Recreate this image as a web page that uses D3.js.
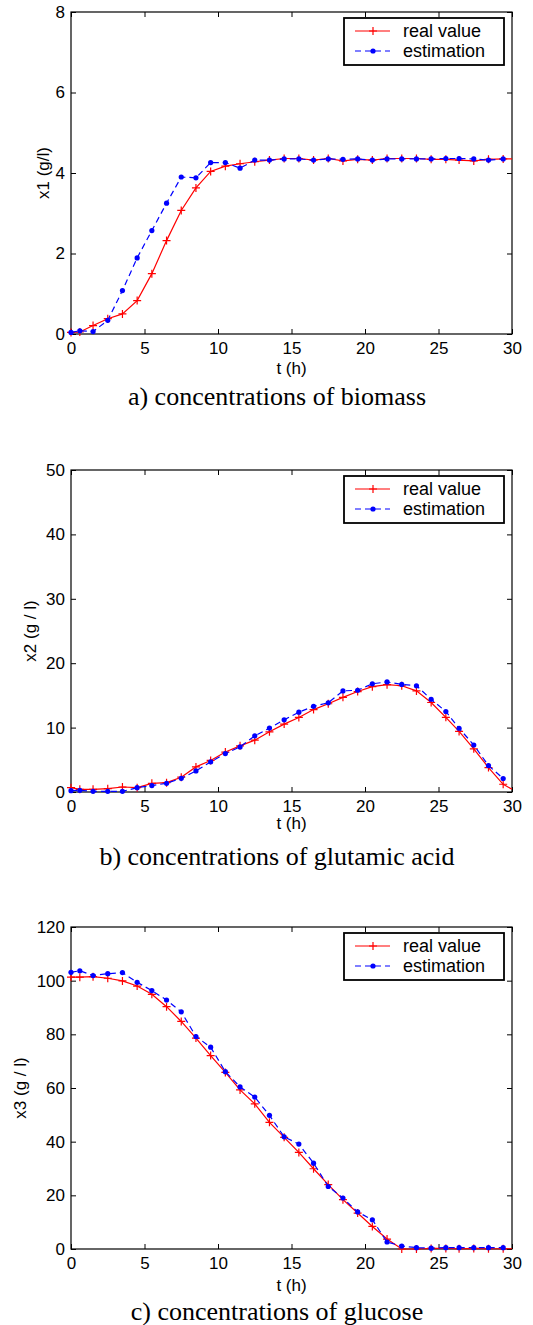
<!DOCTYPE html>
<html>
<head>
<meta charset="utf-8">
<script src="https://cdn.jsdelivr.net/npm/d3@7"></script>
<style>
  body { margin: 0; background: #fff; }
  svg text { font-family: "Liberation Sans", Arial, sans-serif; }
  .cap { font-family: "Liberation Serif", "Times New Roman", serif; }
</style>
</head>
<body>
<svg id="chart" width="533" height="1325"></svg>
<script>
// sampling times (h)
var times = [0, 0.6, 1.5, 2.5, 3.5, 4.5, 5.5, 6.5, 7.5, 8.5, 9.5, 10.5, 11.5, 12.5, 13.5,
             14.5, 15.5, 16.5, 17.5, 18.5, 19.5, 20.5, 21.5, 22.5, 23.5, 24.5, 25.5,
             26.4, 27.4, 28.4, 29.4];
// real value has one more point at the end of the run
var realTimes = times.concat([30]);

// biomass x1 (g/l)
var x1Real = [0.04, 0.05, 0.21, 0.38, 0.50, 0.83, 1.50, 2.32, 3.07, 3.63, 4.04, 4.17, 4.23,
              4.28, 4.32, 4.36, 4.36, 4.32, 4.36, 4.30, 4.34, 4.32, 4.36, 4.36, 4.36, 4.34,
              4.34, 4.32, 4.30, 4.34, 4.35, 4.35];
var x1Est = [0.04, 0.08, 0.06, 0.34, 1.08, 1.89, 2.57, 3.25, 3.90, 3.88, 4.26, 4.26, 4.12,
             4.32, 4.32, 4.35, 4.35, 4.32, 4.35, 4.34, 4.35, 4.32, 4.35, 4.35, 4.35, 4.35,
             4.36, 4.36, 4.35, 4.32, 4.35];

// glutamic acid x2 (g/l)
var x2Real = [0.67, 0.42, 0.42, 0.52, 0.78, 0.67, 1.35, 1.45, 2.3, 3.9, 4.9, 6.2, 7.17,
              8.05, 9.35, 10.54, 11.58, 12.8, 13.7, 14.7, 15.6, 16.35, 16.67, 16.5, 15.7,
              13.9, 11.6, 9.4, 6.7, 3.8, 1.2, 0.42];
var x2Est = [0.2, 0.26, 0.1, 0.1, 0.1, 0.67, 1.0, 1.35, 2.13, 3.27, 4.67, 5.97, 7.0,
             8.72, 9.92, 11.2, 12.4, 13.3, 13.85, 15.7, 15.8, 16.8, 17.1, 16.7, 16.5,
             14.4, 12.5, 9.9, 7.3, 4.1, 2.1];

// glucose x3 (g/l)
var x3Real = [101.3, 101.3, 101.5, 100.9, 99.9, 98.0, 94.9, 90.3, 84.8, 78.6, 72.1, 65.8,
              59.3, 54.1, 47.2, 41.6, 36.0, 29.9, 24.0, 18.4, 13.4, 8.4, 3.7, 0.0, 0.0,
              0.2, 0.2, 0.1, 0.2, 0.1, 0.1, 0.1];
var x3Est = [103.1, 103.7, 101.9, 102.6, 103.0, 99.4, 96.3, 92.8, 88.4, 79.2, 75.2, 66.1,
             60.4, 56.6, 49.8, 41.8, 39.1, 32.0, 23.3, 19.0, 13.8, 10.9, 2.6, 1.1, 0.5,
             0.3, 0.5, 0.5, 0.5, 0.5, 0.5];

var xTicks = [0, 5, 10, 15, 20, 25, 30];
var legendLabels = ["real value", "estimation"];

var panels = [
  { top: 12,  yMax: 8,   yTicks: [0, 2, 4, 6, 8], yLabel: "x1 (g/l)", yLabelX: 43,
    real: x1Real, est: x1Est, xTitleDy: 34, capDy: 62, caption: "a) concentrations of biomass" },
  { top: 470, yMax: 50,  yTicks: [0, 10, 20, 30, 40, 50], yLabel: "x2 (g / l)", yLabelX: 30,
    real: x2Real, est: x2Est, xTitleDy: 31, capDy: 64, caption: "b) concentrations of glutamic acid" },
  { top: 927, yMax: 120, yTicks: [0, 20, 40, 60, 80, 100, 120], yLabel: "x3 (g / l)", yLabelX: 20,
    real: x3Real, est: x3Est, xTitleDy: 36, capDy: 62, caption: "c) concentrations of glucose" }
];

var svg = d3.select("#chart");
var left = 71, right = 512, plotH = 322;
var fs = 17;

var x = d3.scaleLinear().domain([0, 30]).range([left, right]);

panels.forEach(function(p) {
    var y = d3.scaleLinear().domain([0, p.yMax]).range([p.top + plotH, p.top]);
    var g = svg.append("g");
    var bottom = p.top + plotH;

    // axes with inward ticks, matlab style
    var ax = g.append("g").attr("transform", "translate(0," + bottom + ")")
        .call(d3.axisBottom(x).tickValues(xTicks).tickSize(-5).tickPadding(8));
    var axTop = g.append("g").attr("transform", "translate(0," + p.top + ")")
        .call(d3.axisTop(x).tickValues(xTicks).tickSize(-5).tickFormat(""));
    var ay = g.append("g").attr("transform", "translate(" + left + ",0)")
        .call(d3.axisLeft(y).tickValues(p.yTicks).tickSize(-5).tickPadding(6));
    var ayR = g.append("g").attr("transform", "translate(" + right + ",0)")
        .call(d3.axisRight(y).tickValues(p.yTicks).tickSize(-5).tickFormat(""));
    [ax, axTop, ay, ayR].forEach(function(a) {
        a.select(".domain").remove();
        a.selectAll("line").attr("stroke", "#000");
        a.selectAll("text").attr("fill", "#000").style("font-size", fs + "px");
    });

    g.append("rect").attr("x", left).attr("y", p.top)
        .attr("width", right - left).attr("height", plotH)
        .attr("fill", "none").attr("stroke", "#000").attr("stroke-width", 1.2);

    // real value: red solid with +
    var realPts = realTimes.map(function(t, i) { return [t, p.real[i]]; });
    var estPts = times.map(function(t, i) { return [t, p.est[i]]; });
    var line = d3.line().x(function(d) { return x(d[0]); }).y(function(d) { return y(d[1]); });

    g.append("path").attr("d", line(realPts)).attr("fill", "none")
        .attr("stroke", "#ff0000").attr("stroke-width", 1.2);
    g.selectAll(".plus").data(realPts.slice(0, times.length)).enter().append("path")
        .attr("d", function(d) {
            var cx = x(d[0]), cy = y(d[1]), s = 4;
            return "M" + (cx - s) + "," + cy + "H" + (cx + s) + "M" + cx + "," + (cy - s) + "V" + (cy + s);
        })
        .attr("stroke", "#ff0000").attr("stroke-width", 1.2);

    // estimation: blue dashed with dots
    g.append("path").attr("d", line(estPts)).attr("fill", "none")
        .attr("stroke", "#0000ff").attr("stroke-width", 1.2).attr("stroke-dasharray", "6,4");
    g.selectAll(".dot").data(estPts).enter().append("circle")
        .attr("cx", function(d) { return x(d[0]); })
        .attr("cy", function(d) { return y(d[1]); })
        .attr("r", 2.6).attr("fill", "#0000ff");

    // legend
    var lg = g.append("g").attr("transform", "translate(344," + (p.top + 6) + ")");
    lg.append("rect").attr("width", 160).attr("height", 47)
        .attr("fill", "#fff").attr("stroke", "#000").attr("stroke-width", 1.8);
    legendLabels.forEach(function(lab, i) {
        var cy = 13 + i * 20;
        var ln = lg.append("line").attr("x1", 11).attr("x2", 46).attr("y1", cy).attr("y2", cy)
            .attr("stroke", i === 0 ? "#ff0000" : "#0000ff").attr("stroke-width", 1.2);
        if (i === 0) {
            lg.append("path").attr("d", "M25," + cy + "H33M29," + (cy - 4) + "V" + (cy + 4))
                .attr("stroke", "#ff0000").attr("stroke-width", 1.2);
        } else {
            ln.attr("stroke-dasharray", "6,4");
            lg.append("circle").attr("cx", 29).attr("cy", cy).attr("r", 2.6).attr("fill", "#0000ff");
        }
        lg.append("text").attr("x", 59).attr("y", cy).attr("dy", "0.35em")
            .style("font-size", "18px").text(lab);
    });

    // titles
    g.append("text").attr("x", (left + right) / 2).attr("y", bottom + p.xTitleDy)
        .attr("dy", "0.35em").attr("text-anchor", "middle").style("font-size", fs + "px")
        .text("t (h)");
    g.append("text").attr("transform", "translate(" + p.yLabelX + "," + (p.top + plotH / 2) + ") rotate(-90)")
        .attr("dy", "0.35em").attr("text-anchor", "middle").style("font-size", fs + "px")
        .text(p.yLabel);
    g.append("text").attr("class", "cap").attr("x", 277).attr("y", bottom + p.capDy)
        .attr("dy", "0.35em").attr("text-anchor", "middle").style("font-size", "26px")
        .text(p.caption);
});
</script>
</body>
</html>
